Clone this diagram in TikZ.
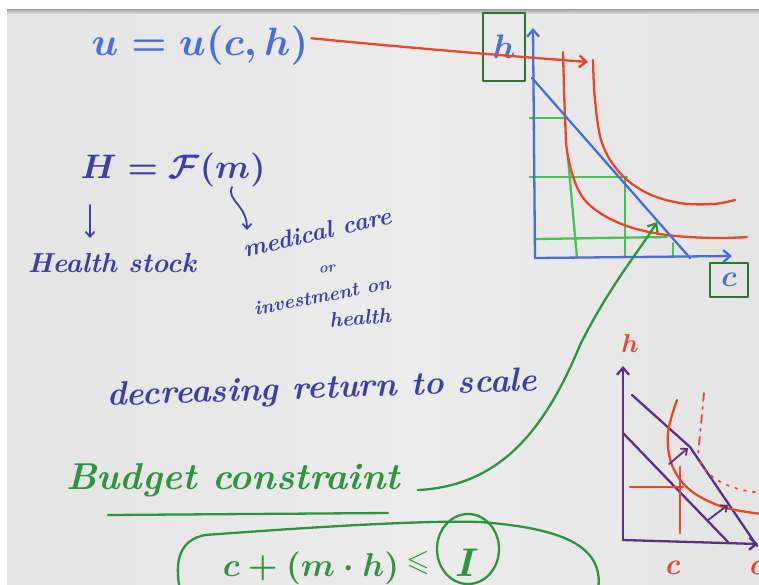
\documentclass[tikz,border=0pt]{standalone}
\usepackage{amssymb}
\usepackage{graphicx}
\usetikzlibrary{arrows.meta}
\definecolor{board}{RGB}{228,228,228}
\definecolor{boardhi}{RGB}{236,236,236}
\definecolor{penblue}{RGB}{70,110,220}
\definecolor{inkblue}{RGB}{62,62,168}
\definecolor{pengreen}{RGB}{45,150,60}
\definecolor{gridgreen}{RGB}{70,195,80}
\definecolor{boxgreen}{RGB}{40,120,50}
\definecolor{penred}{RGB}{232,70,45}
\definecolor{penpurple}{RGB}{92,48,128}
\tikzset{
  pen/.style={line width=2.3pt,line cap=round,line join=round},
  thinpen/.style={line width=1.8pt,line cap=round,line join=round},
  vtip/.style={-{Straight Barb[length=7pt,width=12pt]}},
  smalltip/.style={-{Straight Barb[length=5pt,width=9pt]}},
  hand/.style={inner sep=0pt,outer sep=0pt,font=\bfseries\itshape\boldmath},
}
\begin{document}
\begin{tikzpicture}[x=1pt,y=-1pt]
\useasboundingbox (0,0) rectangle (759,584);
% board
\fill[white] (0,0) rectangle (759,584);
\shade[left color=board,right color=boardhi] (7,10) rectangle (420,584);
\shade[left color=boardhi,right color=board] (420,10) rectangle (759,584);
\shade[top color=gray!75,bottom color=board] (7,9) rectangle (759,14);

% ---------- top left: utility ----------
\node[hand,text=penblue] (uh) at (200,46) {\scalebox{3.95}{$u=u(c,h)$}};

% ---------- top right graph ----------
\node[hand,draw=boxgreen,pen,text=penblue,minimum width=42pt,minimum height=68pt] (hbox) at (504,47) {\scalebox{3.4}{$h$}};
\node[hand,draw=boxgreen,pen,text=penblue,minimum width=38pt,minimum height=34pt] (cbox) at (729,280) {\scalebox{3}{$c$}};

\coordinate (O1) at (535,258);
\coordinate (Y1) at (533,28);
\coordinate (X1) at (732,256);
\coordinate (B1a) at (532,78);
\coordinate (B1b) at (690,258);

% green grid
\draw[pen,gridgreen] (530,118) -- (565,118);
\draw[pen,gridgreen] (530,177) -- (627,177);
\draw[pen,gridgreen] (536,239) -- (667,237);
\draw[pen,gridgreen] (568,158) -- (577,258);
\draw[pen,gridgreen] (625,177) -- (625,256);
\draw[pen,gridgreen] (673,243) -- (673,257);

% red indifference curves
\draw[pen,penred] plot[smooth,tension=0.6] coordinates
  {(563,52) (565,117) (568,157) (580,193) (600,213) (630,227) (667,235) (713,238) (747,237)};
\draw[pen,penred] plot[smooth,tension=0.6] coordinates
  {(593,60) (595,100) (602,143) (620,173) (647,193) (680,203) (713,204) (735,200)};

% blue axes and budget line
\draw[pen,penblue,vtip] (O1) -- (Y1);
\draw[pen,penblue,vtip] (O1) -- (X1);
\draw[pen,penblue] (B1a) -- (B1b);

% red arrow from utility to graph
\coordinate (harr) at (588,62);
\draw[pen,penred,vtip] ([xshift=3pt,yshift=-12pt]uh.north east) .. controls (330,40) and (430,50) .. (harr);

% ---------- health production ----------
\node[hand,text=inkblue] (Hf) at (173,170) {\scalebox{3.4}{$H=\mathcal{F}(m)$}};
\node[hand,text=inkblue] (hs) at (112,263) {\scalebox{2.75}{Health stock}};
\node[hand,text=inkblue,rotate=13] (mc) at (317,232) {\scalebox{2.45}{medical care}};
\node[hand,text=inkblue,rotate=8] (or) at (327,269) {\scalebox{1.5}{or}};
\node[hand,text=inkblue,rotate=11] (inv) at (322,296) {\scalebox{1.95}{investment on}};
\node[hand,text=inkblue,rotate=5] (hl) at (360,318) {\scalebox{2.1}{health}};
\coordinate (hsarr) at (90,238);
\draw[thinpen,inkblue,smalltip] (90,205) -- (hsarr);
\coordinate (mcarr) at (247,230);
\draw[thinpen,inkblue,smalltip] (232,187) .. controls (226,200) and (247,205) .. (mcarr);

\node[hand,text=inkblue,rotate=2] (drs) at (322,390) {\scalebox{3.35}{decreasing return to scale}};

% ---------- budget constraint ----------
\node[hand,text=pengreen] (bc) at (233,480) {\scalebox{3.75}{Budget constraint}};
\draw[pen,pengreen] (108,515) -- (388,513);
\coordinate (bctip) at (657,222);
\draw[pen,pengreen,vtip] ([xshift=18pt,yshift=-10pt]bc.east) .. controls (500,486) and (545,430) .. (580,345)
   .. controls (610,285) and (640,250) .. (bctip);

\node[hand,text=pengreen] (eq) at (311,568) {\scalebox{3.3}{$c+(m\cdot h)$}};
\node[hand,text=pengreen] (leq) at (418,563) {\scalebox{3}{$\leqslant$}};
\node[hand,text=pengreen] (inc) at (467,563) {\scalebox{4}{$I$}};
\draw[pen,pengreen] (468,549) ellipse (31pt and 35pt);
\draw[pen,pengreen] (180,590) .. controls (174,560) and (180,540) .. (205,535)
   .. controls (300,528) and (420,520) .. (480,522)
   .. controls (560,528) and (605,545) .. (598,590);

% ---------- bottom right graph ----------
\node[hand,text=penred] (h2) at (630,343) {\scalebox{2.6}{$h$}};
\coordinate (O2) at (623,540);
\coordinate (Y2) at (623,366);
\coordinate (X2) at (758,544);
\draw[pen,penpurple,vtip] (O2) -- (Y2);
\draw[pen,penpurple,vtip] (O2) -- (X2);
\draw[pen,penpurple] (623,433) -- (728,542);
\draw[pen,penpurple] (632,395) -- (690,447) -- (757,546);

\draw[pen,penred] plot[smooth,tension=0.6] coordinates
  {(677,400) (668,433) (672,465) (690,490) (723,507) (762,514)};
\draw[pen,penred] (630,487) -- (683,487);
\draw[pen,penred] (680,467) -- (680,533);
\draw[thinpen,penred,dash pattern=on 8pt off 6pt on 2pt off 6pt] (704,393) -- (698,455);
\draw[thinpen,penred,dash pattern=on 2pt off 7pt] (700,462) .. controls (710,480) and (730,490) .. (762,493);
\draw[thinpen,penpurple,smalltip] (669,464) -- (688,448);
\draw[thinpen,penpurple,smalltip] (708,520) -- (728,505);
\node[hand,text=penred] (c2) at (672,568) {\scalebox{3}{c}};
\node[hand,text=penred,anchor=west] (c3) at (748,568) {\scalebox{3}{c}};
\end{tikzpicture}
\end{document}
